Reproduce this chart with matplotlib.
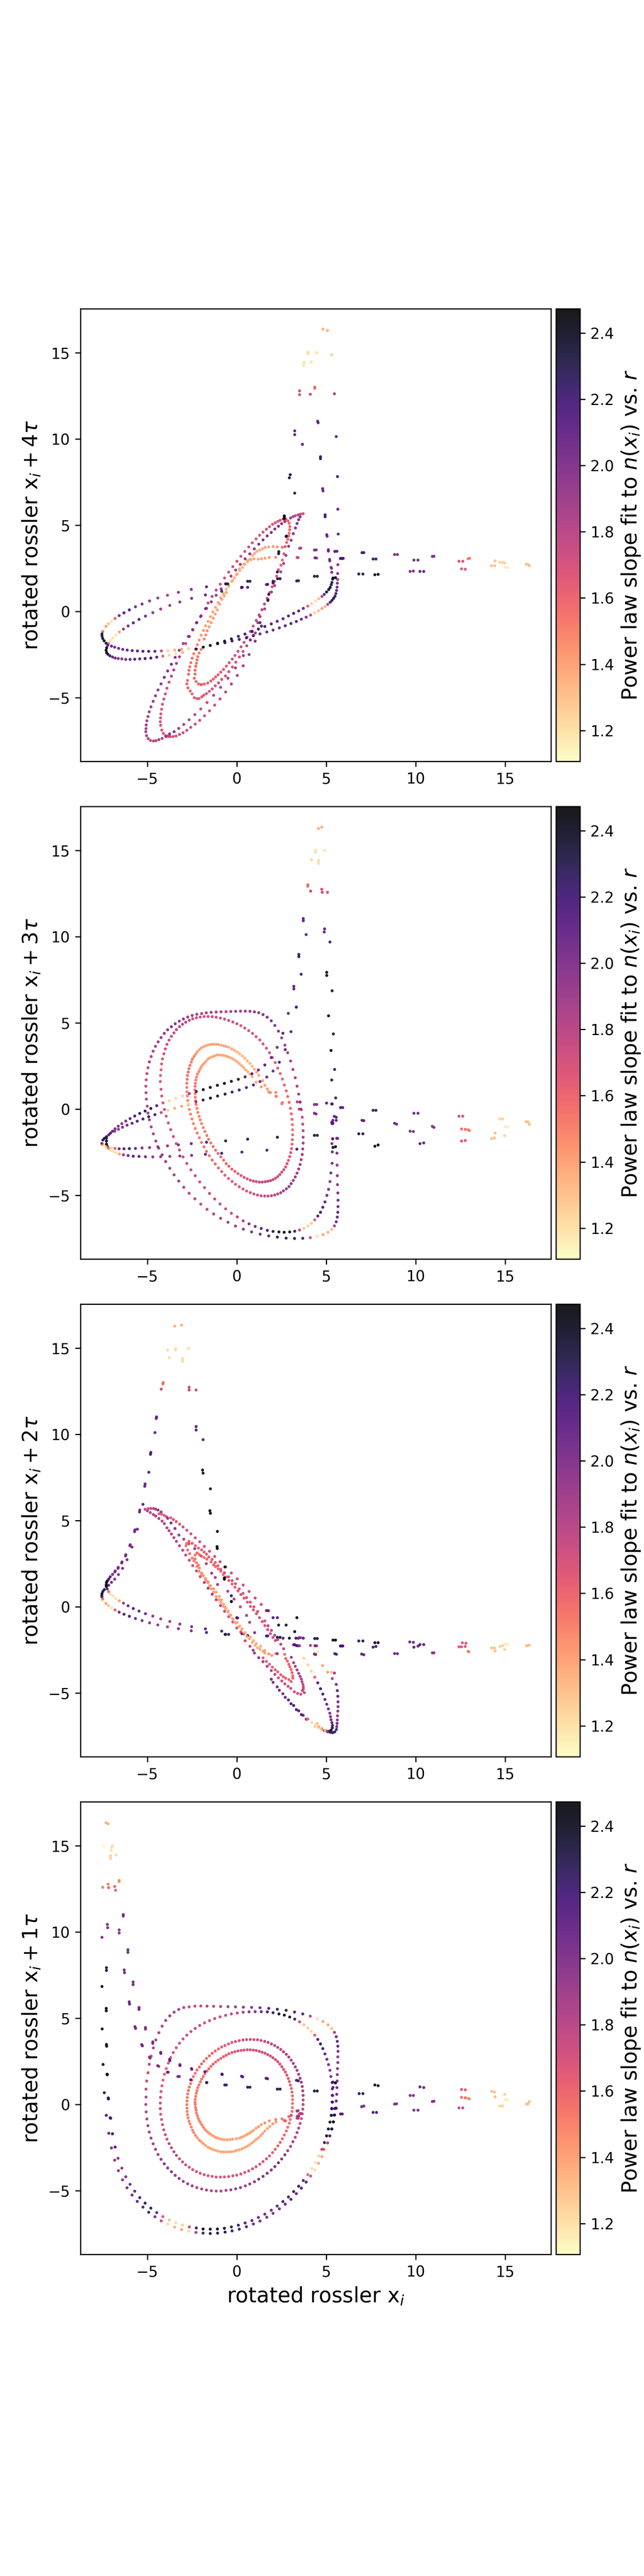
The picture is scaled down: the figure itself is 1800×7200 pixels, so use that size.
import matplotlib
matplotlib.use('Agg')
import matplotlib.pyplot as plt

# points as (x_i, x_i+k*tau, power law slope)

# ---- lag 4 ----
lag4_upper = [(-4.65,-7.51,1.8),(-4.82,-7.48,1.8),(-4.95,-7.37,1.82),(-5.04,-7.2,1.85),(-5.08,-6.97,1.87),(-5.07,-6.79,1.88),(-5.06,-6.58,1.88),(-5.02,-6.34,1.88),(-4.96,-6.09,1.88),(-4.89,-5.82,1.88),(-4.79,-5.53,1.9),(-4.67,-5.21,1.92),(-4.54,-4.89,1.92),(-4.4,-4.55,1.95),(-4.23,-4.2,1.97),(-4.05,-3.82,2.05),(-3.86,-3.45,2.0),(-3.65,-3.06,2.05),(-3.44,-2.66,2.0),(-3.21,-2.25,1.95),(-2.99,-1.86,1.9),(-2.7,-1.45,1.95),(-2.47,-1.05,1.9),(-2.25,-0.66,1.95),(-1.99,-0.25,1.9),(-1.75,0.16,1.85),(-1.6,0.49,1.75),(-1.38,0.87,1.75),(-1.15,1.24,1.75),(-0.92,1.58,1.72),(-0.68,1.94,1.7),(-0.45,2.28,1.7),(-0.22,2.6,1.7),(0.01,2.91,1.7),(0.23,3.2,1.7),(0.45,3.48,1.68),(0.67,3.74,1.68),(0.87,3.98,1.68),(1.08,4.21,1.68),(1.28,4.42,1.68),(1.47,4.6,1.68),(1.66,4.77,1.68),(1.83,4.91,1.68),(2.0,5.05,1.68),(2.15,5.14,1.68),(2.3,5.22,1.68),(2.43,5.29,1.68),(2.6,5.35,1.65),(2.73,5.38,1.62)]
lag4_second = [(-3.83,-7.25,1.7),(-3.97,-7.2,1.7),(-4.1,-7.07,1.7),(-4.19,-6.88,1.7),(-4.25,-6.6,1.68),(-4.27,-6.39,1.68),(-4.26,-6.17,1.68),(-4.24,-5.94,1.68),(-4.2,-5.67,1.68),(-4.15,-5.38,1.7),(-4.07,-5.08,1.72),(-3.99,-4.78,1.72),(-3.9,-4.45,1.72),(-3.78,-4.1,1.75),(-3.65,-3.75,1.78),(-3.52,-3.39,1.85),(-3.37,-3.01,1.85),(-3.2,-2.63,1.85),(-2.85,-1.86,1.75),(-2.65,-1.45,1.9),(-2.45,-1.07,1.9),(-2.23,-0.64,1.95),(-2.02,-0.29,1.95),(-1.69,0.18,2.0),(-1.42,0.56,1.95),(-1.15,0.94,1.9),(-0.87,1.31,1.95),(-0.6,1.6,1.95),(-0.32,2.05,1.9),(-0.06,2.4,1.9),(0.2,2.73,1.9),(0.47,3.05,1.95),(0.73,3.34,1.95),(0.98,3.63,1.95),(1.23,3.9,1.98),(1.47,4.15,2.0),(1.7,4.38,2.02),(1.93,4.58,2.02),(2.13,4.78,2.0),(2.33,4.94,2.0),(2.51,5.09,1.98),(2.69,5.21,1.95)]
lag4_tip = [(3.01,5.42,1.9),(3.15,5.5,1.82),(3.27,5.55,1.8),(3.43,5.6,1.78),(3.56,5.64,1.75),(3.71,5.67,1.72),(3.54,5.48,1.95),(3.46,5.32,1.98),(3.37,5.1,2.0),(3.28,4.84,2.0),(3.16,4.51,1.98),(3.04,4.13,1.95),(2.9,3.78,1.92),(2.75,3.25,1.9),(2.62,2.78,1.85),(2.46,2.3,1.85),(2.12,1.5,1.85),(1.94,1.13,1.9),(1.75,0.7,1.92),(1.56,0.15,1.85),(1.3,-0.3,1.85),(1.18,-0.65,1.9),(1.04,-1.25,1.9)]
lag4_inner_big = [(-2.79,-4.2,1.6),(-2.75,-4.0,1.58),(-2.69,-3.64,1.58),(-2.67,-3.41,1.58),(-2.62,-3.2,1.55),(-2.56,-2.97,1.55),(-2.49,-2.71,1.55),(-2.4,-2.45,1.52),(-2.31,-2.18,1.5),(-2.2,-1.93,1.48),(-2.1,-1.66,1.45),(-1.99,-1.38,1.42),(-1.86,-1.1,1.42),(-1.74,-0.83,1.42),(-1.6,-0.57,1.4),(-1.47,-0.3,1.4),(-1.33,-0.02,1.4),(-1.19,0.24,1.38),(-1.04,0.52,1.38),(-0.9,0.79,1.38),(-0.74,1.03,1.38),(-0.59,1.29,1.36),(-0.44,1.51,1.36),(-0.28,1.74,1.36),(-0.13,1.96,1.36),(0.03,2.18,1.36),(0.17,2.37,1.36),(0.32,2.55,1.36),(0.45,2.73,1.36),(0.6,2.89,1.36),(0.74,3.03,1.36),(0.88,3.25,1.36),(1.0,3.37,1.36),(1.13,3.49,1.36),(1.29,3.56,1.36),(1.44,3.64,1.36),(1.59,3.71,1.38),(1.78,3.74,1.4),(2.03,3.76,1.42),(2.26,3.74,1.42),(2.55,3.72,1.55)]
lag4_inner_small = [(-2.0,-4.24,1.58),(-2.14,-4.2,1.58),(-2.27,-4.06,1.58),(-2.37,-3.87,1.58),(-2.33,-3.63,1.58),(-2.33,-3.41,1.58),(-2.29,-3.18,1.58),(-2.25,-3.0,1.55),(-2.22,-2.81,1.55),(-2.18,-2.62,1.52),(-2.1,-2.41,1.52),(-1.99,-2.2,1.5),(-1.82,-1.6,1.48),(-1.73,-1.36,1.45),(-1.65,-1.12,1.45),(-1.54,-0.89,1.42),(-1.43,-0.65,1.42),(-1.31,-0.39,1.42),(-1.2,-0.15,1.4),(-1.08,0.09,1.4),(-0.95,0.42,1.38),(-0.83,0.7,1.38),(-0.7,0.9,1.38),(-0.58,1.1,1.38),(-0.45,1.45,1.36),(-0.23,1.8,1.36),(-0.02,2.13,1.36),(0.15,2.47,1.36),(0.4,2.75,1.36),(0.62,2.95,1.36),(0.8,3.0,1.36),(0.96,3.05,1.36),(1.2,3.03,1.36),(1.38,3.05,1.38),(1.58,3.09,1.38),(1.82,3.13,1.42),(2.18,3.14,1.45)]
lag4_right = [(-2.73,-4.43,1.6),(-2.6,-4.61,1.6),(-2.5,-4.78,1.6),(-2.37,-5.0,1.62),(-2.22,-5.05,1.62),(-2.1,-5.05,1.62),(-1.95,-4.95,1.65),(-1.84,-4.85,1.65),(-1.69,-4.76,1.65),(-1.53,-4.63,1.68),(-1.37,-4.49,1.68),(-1.2,-4.31,1.68),(-1.02,-4.14,1.7),(-0.84,-3.94,1.7),(-0.63,-3.74,1.7),(-0.44,-3.49,1.7),(-0.24,-3.22,1.68),(-0.05,-2.94,1.68),(0.15,-2.64,1.7),(0.35,-2.32,1.72),(0.56,-1.99,1.78),(0.76,-1.65,1.85)]
lag4_small_right = [(-1.96,-4.24,1.58),(-1.81,-4.21,1.6),(-1.62,-4.15,1.62),(-1.45,-4.03,1.62),(-1.31,-3.92,1.62),(-1.18,-3.79,1.62),(-1.04,-3.67,1.62),(-0.89,-3.52,1.65),(-0.74,-3.36,1.65),(-0.58,-3.17,1.65),(-0.42,-2.97,1.68),(-0.25,-2.76,1.68),(-0.1,-2.55,1.68),(0.07,-2.31,1.7),(0.24,-2.05,1.7),(0.41,-1.79,1.7),(0.58,-1.49,1.72),(0.76,-1.16,1.7),(0.92,-0.85,1.72),(1.09,-0.52,1.75),(1.25,-0.2,1.75),(1.41,0.1,1.8),(1.55,0.43,1.78),(1.7,0.76,1.75),(1.84,1.09,1.72),(1.98,1.43,1.7),(2.11,1.74,1.68),(2.23,2.05,1.65),(2.33,2.42,1.65),(2.47,2.68,1.62),(2.55,2.98,1.6),(2.64,3.34,1.65),(2.71,3.76,1.62),(2.79,4.0,1.6),(2.85,4.19,1.6),(2.9,4.37,1.58),(2.93,4.54,1.58),(2.96,4.74,1.58),(2.97,4.92,1.58),(2.93,5.11,1.58),(2.87,5.25,1.6),(2.75,5.34,1.62)]
lag4_low_a = [(-4.51,-7.49,1.8),(-4.35,-7.43,1.85),(-4.17,-7.36,1.85),(-3.96,-7.25,1.9),(-3.75,-7.1,2.0),(-3.5,-6.97,2.0),(-3.24,-6.78,1.9),(-2.96,-6.55,1.85),(-2.66,-6.28,1.8),(-2.34,-5.98,1.78),(-2.01,-5.65,1.75),(-1.66,-5.28,1.72),(-1.29,-4.86,1.78),(-0.9,-4.4,1.82),(-0.49,-3.87,1.85),(-0.07,-3.27,1.85),(0.37,-2.56,1.9),(0.76,-1.65,1.95)]
lag4_low_b = [(-3.85,-7.22,1.7),(-3.71,-7.26,1.7),(-3.55,-7.25,1.7),(-3.39,-7.22,1.7),(-3.2,-7.13,1.72),(-3.0,-7.03,1.72),(-2.79,-6.89,1.72),(-2.57,-6.72,1.72),(-2.32,-6.53,1.72),(-2.07,-6.31,1.72),(-1.8,-6.05,1.72),(-1.52,-5.76,1.72),(-1.23,-5.43,1.72),(-0.93,-5.07,1.75),(-0.62,-4.67,1.78),(-0.3,-4.21,1.82),(0.03,-3.71,1.85),(0.36,-3.15,1.88),(0.69,-2.5,1.9),(1.03,-1.72,2.0)]
lag4_oval_top = [(-7.49,-1.16,1.55),(-7.42,-1.02,1.12),(-7.31,-0.86,1.4),(-7.17,-0.71,1.3),(-7.0,-0.57,1.2),(-6.8,-0.41,1.6),(-6.57,-0.24,2.05),(-6.3,-0.08,2.2),(-6.0,0.09,2.2),(-5.66,0.27,2.05),(-5.29,0.43,2.0),(-4.87,0.61,1.95),(-4.41,0.78,1.9),(-3.87,0.94,1.85),(-3.26,1.11,1.95),(-2.54,1.28,2.0),(-1.69,1.43,2.15),(-0.62,1.6,2.3),(-0.5,1.6,2.3)]
lag4_oval_mid = [(-7.16,-1.86,1.55),(-7.06,-1.68,1.2),(-6.93,-1.53,1.2),(-6.76,-1.37,1.2),(-6.56,-1.19,1.4),(-6.33,-1.02,1.9),(-6.07,-0.84,2.05),(-5.78,-0.66,2.15),(-5.46,-0.46,2.1),(-5.1,-0.27,2.05),(-4.69,-0.07,1.95),(-4.25,0.14,1.9),(-3.74,0.35,1.9),(-3.18,0.55,1.95),(-2.52,0.76,2.0),(-1.75,0.96,2.1),(-0.84,1.17,2.2),(0.27,1.38,2.15),(0.31,1.4,2.15),(0.61,1.75,2.3),(0.74,1.75,2.3)]
lag4_oval_turn = [(-7.53,-1.3,2.3),(-7.53,-1.42,2.35),(-7.49,-1.56,2.4),(-7.41,-1.7,2.4),(-7.3,-1.84,2.3),(-7.21,-1.96,2.15),(-7.27,-2.11,2.45),(-7.3,-2.25,2.47),(-7.27,-2.39,2.45),(-7.2,-2.48,2.35),(-7.09,-2.57,2.2),(-6.94,-2.64,2.1),(-6.79,-2.7,2.05),(-6.62,-2.73,2.0),(-6.42,-2.75,2.0),(-6.2,-2.78,2.05),(-5.96,-2.78,2.1),(-5.7,-2.77,2.15),(-5.42,-2.75,2.15),(-5.12,-2.73,2.25),(-4.8,-2.7,2.3),(-4.47,-2.65,2.15),(-4.13,-2.59,1.6),(-3.77,-2.54,1.25),(-3.41,-2.45,1.2),(-3.03,-2.38,1.35)]
lag4_oval_low = [(-7.0,-2.01,2.1),(-6.82,-2.07,2.05),(-6.6,-2.14,2.05),(-6.37,-2.2,2.05),(-6.12,-2.24,2.1),(-5.84,-2.27,2.15),(-5.55,-2.29,2.15),(-5.24,-2.31,2.2),(-4.92,-2.31,2.2),(-4.57,-2.31,2.1),(-4.21,-2.29,1.75),(-3.85,-2.27,1.25),(-3.47,-2.24,1.35),(-3.08,-2.19,1.4),(-2.69,-2.16,1.25),(-2.3,-2.18,1.5),(-2.26,-2.18,2.3),(-1.87,-2.07,2.45),(-1.48,-1.97,2.47),(-1.07,-1.87,2.42),(-0.68,-1.72,2.4),(-0.3,-1.59,2.35),(0.09,-1.44,2.25),(0.46,-1.31,2.2),(0.86,-1.17,2.2),(1.21,-1.02,2.25),(1.57,-0.87,2.2),(1.93,-0.72,2.15),(2.26,-0.57,2.15),(2.59,-0.42,2.15),(2.89,-0.26,2.15),(3.18,-0.11,2.2),(3.46,0.03,2.15),(3.72,0.18,2.1),(3.97,0.31,1.6),(4.18,0.46,1.25),(4.39,0.61,1.2),(4.58,0.74,1.3),(4.76,0.87,1.8),(4.89,0.99,2.1),(5.02,1.13,2.4),(5.14,1.27,2.4),(5.22,1.39,2.4),(5.28,1.55,2.3),(5.32,1.68,2.3),(5.36,1.87,2.25)]
lag4_oval_under = [(-1.07,-1.84,2.45),(-0.66,-1.81,2.3),(-0.26,-1.71,2.25),(0.14,-1.62,2.2),(0.54,-1.53,2.2),(0.93,-1.41,2.2),(1.3,-1.3,2.1),(1.68,-1.19,2.05),(2.03,-1.08,2.05),(2.38,-0.95,2.1),(2.71,-0.83,2.15),(3.03,-0.7,2.15),(3.33,-0.58,2.15),(3.61,-0.45,2.1),(3.88,-0.33,2.0),(4.13,-0.21,1.75),(4.36,-0.08,1.25),(4.57,0.04,1.3),(4.76,0.17,1.4),(4.93,0.28,1.35),(5.08,0.41,1.8),(5.22,0.53,2.2),(5.32,0.64,2.3),(5.41,0.76,2.35),(5.49,0.88,2.25),(5.54,1.04,2.15),(5.58,1.22,2.1),(5.61,1.41,2.05),(5.62,1.64,2.0),(5.64,1.85,1.9)]
lag4_top = [(4.82,16.37,1.35),(5.07,16.29,1.35),(4.0,15.03,1.2),(3.97,14.94,1.2),(4.48,15.0,1.2),(5.3,14.88,1.25),(3.77,14.44,1.2),(3.74,14.27,1.2),(4.16,14.46,1.2),(4.36,13.01,1.55),(4.36,12.94,1.55),(3.51,12.79,1.7),(3.51,12.57,1.7),(4.11,12.59,1.75),(5.46,12.62,1.85),(4.52,11.03,2.1),(4.55,10.94,2.1),(3.24,10.47,2.1),(3.24,10.25,2.1),(3.67,9.69,2.15),(5.56,10.14,2.1),(4.68,8.97,2.25),(4.68,8.86,2.25),(2.99,7.93,2.35),(2.94,7.75,2.35),(5.63,7.82,2.2),(3.24,6.86,2.3),(4.8,7.12,2.1),(4.82,6.99,2.1),(5.65,5.93,2.1),(4.94,5.6,2.2),(4.94,5.49,2.2),(2.66,5.54,2.4),(2.64,5.39,2.4),(5.03,4.45,2.05),(5.05,4.36,2.05),(5.67,4.49,2.1),(2.78,4.37,2.35)]
lag4_far = [(5.83,3.08,2.15),(5.95,3.08,2.15),(7.0,3.41,2.2),(7.1,3.41,2.2),(7.62,3.04,2.25),(7.78,3.04,2.25),(8.82,3.3,2.0),(8.98,3.3,2.0),(9.9,2.98,2.05),(10.13,2.98,2.05),(10.93,3.19,1.95),(11.02,3.2,1.95),(12.42,2.91,1.7),(12.63,2.91,1.7),(12.93,3.06,1.5),(13.02,3.08,1.5),(14.44,2.93,1.3),(14.7,2.85,1.25),(14.86,2.85,1.25),(14.97,2.8,1.25),(16.17,2.74,1.3),(16.28,2.72,1.3),(16.35,2.65,1.3),(6.82,2.17,2.3),(7.05,2.17,2.3),(7.72,2.13,2.4),(7.9,2.15,2.4),(9.69,2.32,2.0),(9.87,2.34,2.0),(10.24,2.32,2.1),(10.45,2.32,2.1),(12.56,2.47,1.65),(12.77,2.45,1.65),(14.24,2.65,1.3),(14.42,2.65,1.3),(15.0,2.56,1.15),(15.15,2.54,1.15)]
lag4_scatter = [(2.66,5.53,2.4),(2.66,5.39,2.4),(2.76,4.35,2.35),(2.35,3.47,2.35),(2.34,3.35,2.35),(2.27,2.29,2.35),(2.28,1.9,2.35),(2.42,1.9,2.35),(2.03,1.75,2.25),(2.03,1.65,2.25),(1.66,1.56,2.15),(1.73,1.57,2.15),(3.35,1.77,2.25),(3.45,1.78,2.25),(4.34,2.04,2.35),(4.5,2.04,2.35),(5.38,1.94,2.45),(5.52,1.96,2.45),(5.79,3.07,2.15),(5.9,3.07,2.15),(5.12,3.58,2.05),(5.12,3.5,2.05),(5.48,3.48,2.15),(5.6,3.49,2.15),(4.34,3.56,2.0),(4.44,3.57,2.0),(3.51,3.66,1.8),(3.58,3.68,1.8),(4.37,3.11,2.0),(4.46,3.1,2.0),(3.37,3.13,1.7),(3.43,3.12,1.7),(5.19,3.02,2.0),(5.2,2.93,2.0),(5.65,2.71,1.95),(5.27,2.56,1.95),(5.3,2.5,1.95),(5.31,2.27,2.0),(5.64,2.2,1.95),(0.27,1.4,2.15),(0.61,1.4,2.15),(1.74,0.64,2.3),(1.79,0.99,2.3),(1.3,-0.65,2.1),(1.38,-0.85,2.2),(0.85,-1.15,2.15),(0.93,-1.39,2.05)]

# ---- lag 3 ----
lag3_ring_outer = [(-5.07,0.95,1.78),(-5.08,1.33,1.75),(-5.06,1.7,1.75),(-5.02,2.06,1.75),(-4.96,2.4,1.8),(-4.88,2.74,1.85),(-4.78,3.05,1.85),(-4.67,3.36,1.85),(-4.54,3.64,1.85),(-4.39,3.9,1.88),(-4.23,4.15,1.9),(-4.05,4.39,1.95),(-3.86,4.6,1.95),(-3.65,4.78,1.98),(-3.44,4.95,1.98),(-3.21,5.1,1.95),(-2.98,5.23,1.92),(-2.74,5.34,1.9),(-2.49,5.43,1.9),(-2.23,5.5,1.88),(-1.96,5.54,1.88),(-1.7,5.58,1.88),(-1.43,5.61,1.85),(-1.15,5.63,1.85),(-0.88,5.64,1.85),(-0.6,5.65,1.85),(-0.33,5.66,1.88),(-0.06,5.67,1.9),(0.21,5.68,1.9),(0.48,5.68,1.92),(0.74,5.67,1.92),(0.99,5.64,1.95),(1.23,5.59,1.95),(1.47,5.48,2.0),(1.7,5.33,2.02),(1.93,5.12,2.0),(2.13,4.85,1.98),(2.33,4.52,1.98),(2.51,4.13,1.9),(2.69,3.71,1.88),(2.85,3.27,1.85),(3.01,2.79,1.85),(3.14,2.3,1.85),(3.27,1.82,1.85),(3.37,1.33,1.85),(3.46,0.87,1.85),(3.54,0.4,1.8),(3.61,-0.03,1.75),(3.66,-0.47,1.75),(3.69,-0.87,1.78),(3.71,-1.25,1.82),(3.71,-1.63,1.85),(3.71,-1.97,1.88),(3.69,-2.31,1.9),(3.66,-2.63,1.9),(3.6,-2.93,1.9),(3.54,-3.21,1.9),(3.46,-3.47,1.9),(3.37,-3.71,1.9),(3.27,-3.93,1.92),(3.16,-4.13,1.92),(3.04,-4.32,1.95),(2.92,-4.49,1.92),(2.77,-4.62,1.9),(2.61,-4.74,1.85),(2.46,-4.85,1.82),(2.29,-4.92,1.8),(2.12,-4.98,1.78),(1.94,-5.02,1.78),(1.75,-5.04,1.75),(1.56,-5.04,1.75),(1.36,-5.03,1.72),(1.16,-4.98,1.72),(0.96,-4.92,1.7),(0.76,-4.84,1.7),(0.55,-4.75,1.68),(0.35,-4.63,1.68),(0.14,-4.5,1.68),(-0.07,-4.36,1.65),(-0.26,-4.19,1.65),(-0.46,-4.02,1.62),(-0.66,-3.83,1.62),(-0.84,-3.62,1.62),(-1.02,-3.41,1.6),(-1.2,-3.18,1.58),(-1.37,-2.95,1.58),(-1.53,-2.7,1.55),(-1.69,-2.45,1.55),(-1.83,-2.19,1.55),(-1.97,-1.93,1.52),(-2.09,-1.66,1.52),(-2.21,-1.39,1.52),(-2.32,-1.12,1.5),(-2.42,-0.84,1.5),(-2.5,-0.57,1.5),(-2.58,-0.29,1.5),(-2.65,-0.02,1.48),(-2.7,0.25,1.48),(-2.74,0.5,1.48),(-2.76,0.77,1.5),(-2.78,1.01,1.5),(-2.79,1.26,1.5),(-2.79,1.5,1.52),(-2.77,1.73,1.55),(-2.75,1.95,1.55),(-2.71,2.15,1.55),(-2.67,2.35,1.55),(-2.61,2.54,1.55),(-2.54,2.73,1.52),(-2.48,2.9,1.52),(-2.39,3.05,1.48),(-2.3,3.18,1.45),(-2.21,3.32,1.42),(-2.09,3.44,1.4),(-1.98,3.55,1.38),(-1.87,3.61,1.38),(-1.74,3.67,1.38),(-1.6,3.72,1.38),(-1.47,3.75,1.38),(-1.33,3.76,1.38),(-1.17,3.76,1.38),(-1.04,3.75,1.38),(-0.89,3.71,1.38),(-0.73,3.67,1.38),(-0.59,3.63,1.38),(-0.44,3.58,1.36),(-0.28,3.5,1.36),(-0.13,3.41,1.36),(0.02,3.31,1.34),(0.16,3.2,1.34),(0.31,3.08,1.34),(0.45,2.95,1.34),(0.59,2.8,1.34),(0.74,2.65,1.34),(0.86,2.48,1.34),(0.98,2.32,1.34),(1.11,2.14,1.36),(1.23,1.96,1.36),(1.45,1.65,1.38),(1.57,1.38,1.4),(1.71,1.17,1.42),(1.88,0.96,1.45),(2.19,0.75,1.5),(2.55,0.38,1.5)]
lag3_ring_inner = [(-4.27,1.6,1.65),(-4.26,1.95,1.62),(-4.23,2.28,1.62),(-4.2,2.62,1.65),(-4.15,2.91,1.68),(-4.07,3.21,1.7),(-3.99,3.49,1.72),(-3.9,3.76,1.72),(-3.78,4.0,1.72),(-3.65,4.22,1.75),(-3.51,4.42,1.75),(-3.37,4.61,1.78),(-3.2,4.78,1.78),(-3.03,4.92,1.78),(-2.85,5.04,1.78),(-2.65,5.15,1.75),(-2.46,5.24,1.72),(-2.25,5.3,1.72),(-2.04,5.34,1.72),(-1.82,5.37,1.72),(-1.6,5.37,1.72),(-1.37,5.36,1.72),(-1.15,5.33,1.72),(-0.91,5.28,1.72),(-0.68,5.22,1.7),(-0.45,5.14,1.7),(-0.22,5.05,1.7),(0.01,4.95,1.7),(0.23,4.84,1.68),(0.45,4.7,1.68),(0.67,4.55,1.68),(0.88,4.39,1.68),(1.08,4.2,1.68),(1.29,4.01,1.68),(1.47,3.78,1.68),(1.66,3.53,1.68),(1.83,3.27,1.68),(1.99,2.99,1.65),(2.15,2.7,1.65),(2.29,2.38,1.62),(2.43,2.06,1.6),(2.55,1.74,1.6),(2.66,1.4,1.6),(2.77,1.06,1.6),(2.85,0.73,1.58),(2.93,0.39,1.58),(3.0,0.05,1.58),(3.05,-0.27,1.58),(3.09,-0.59,1.58),(3.11,-0.9,1.55),(3.12,-1.2,1.55),(3.12,-1.49,1.58),(3.11,-1.77,1.6),(3.09,-2.03,1.6),(3.06,-2.29,1.62),(3.02,-2.52,1.65),(2.96,-2.75,1.65),(2.89,-2.97,1.65),(2.81,-3.16,1.68),(2.73,-3.35,1.68),(2.63,-3.51,1.68),(2.52,-3.65,1.7),(2.41,-3.79,1.7),(2.29,-3.91,1.72),(2.16,-4.01,1.72),(2.02,-4.09,1.72),(1.88,-4.15,1.75),(1.73,-4.18,1.75),(1.58,-4.21,1.75),(1.42,-4.23,1.75),(1.26,-4.23,1.75),(1.09,-4.2,1.72),(0.93,-4.17,1.72),(0.76,-4.12,1.7),(0.59,-4.04,1.68),(0.41,-3.96,1.68),(0.24,-3.85,1.65),(0.07,-3.74,1.62),(-0.1,-3.61,1.62),(-0.27,-3.48,1.62),(-0.44,-3.31,1.62),(-0.59,-3.16,1.6),(-0.73,-2.96,1.58),(-0.89,-2.77,1.58),(-1.04,-2.57,1.58),(-1.18,-2.38,1.55),(-1.32,-2.17,1.55),(-1.45,-1.96,1.52),(-1.57,-1.75,1.52),(-1.67,-1.53,1.52),(-1.78,-1.3,1.5),(-1.87,-1.07,1.5),(-1.97,-0.84,1.5),(-2.04,-0.62,1.5),(-2.1,-0.42,1.5),(-2.17,-0.19,1.5),(-2.22,0.04,1.5),(-2.27,0.27,1.5),(-2.3,0.49,1.5),(-2.32,0.69,1.5),(-2.33,0.9,1.5),(-2.34,1.12,1.52),(-2.33,1.32,1.52),(-2.31,1.5,1.52),(-2.28,1.69,1.5),(-2.25,1.86,1.48),(-2.2,2.03,1.48),(-2.12,2.17,1.46),(-2.06,2.31,1.42),(-1.99,2.44,1.42),(-1.91,2.56,1.4),(-1.82,2.66,1.4),(-1.72,2.77,1.38),(-1.62,2.89,1.38),(-1.51,2.97,1.38),(-1.38,3.03,1.38),(-1.25,3.08,1.38),(-1.11,3.14,1.38),(-0.98,3.14,1.38),(-0.84,3.13,1.38),(-0.73,3.11,1.38),(-0.6,3.08,1.38),(-0.48,3.03,1.38),(-0.35,2.98,1.36),(-0.22,2.91,1.36),(-0.1,2.83,1.36),(0.03,2.74,1.36),(0.15,2.63,1.36),(0.27,2.52,1.36),(0.39,2.4,1.36),(0.5,2.27,1.36),(0.62,2.17,1.34),(0.73,2.03,1.34),(0.86,1.88,1.34),(1.08,1.56,1.38),(1.37,1.29,1.42),(1.79,1.0,1.45),(2.18,0.97,1.48),(2.22,0.74,1.48),(2.52,0.31,1.5)]
lag3_lower_a = [(-5.05,0.58,1.8),(-5.0,0.17,1.82),(-4.96,-0.23,1.85),(-4.88,-0.62,1.85),(-4.78,-1.03,1.85),(-4.66,-1.43,1.85),(-4.52,-1.85,1.88),(-4.36,-2.26,1.9),(-4.17,-2.65,1.92),(-3.97,-3.04,1.9),(-3.74,-3.43,1.88),(-3.5,-3.81,1.88),(-3.24,-4.17,1.88),(-2.96,-4.53,1.82),(-2.66,-4.88,1.78),(-2.34,-5.2,1.78),(-2.01,-5.51,1.78),(-1.66,-5.81,1.8),(-1.29,-6.08,1.82),(-0.9,-6.33,1.85),(-0.49,-6.56,1.88),(-0.07,-6.78,1.9),(0.37,-6.96,1.95),(0.83,-7.12,2.0),(1.31,-7.25,2.05),(1.79,-7.35,2.1),(2.27,-7.42,2.3),(2.76,-7.48,2.25),(3.23,-7.5,2.3),(3.69,-7.49,2.2),(4.11,-7.45,1.75),(4.5,-7.37,1.2),(4.82,-7.28,1.38),(5.1,-7.14,1.35),(5.31,-6.97,1.3),(5.46,-6.77,1.85),(5.56,-6.53,2.05),(5.62,-6.26,2.1),(5.65,-5.98,2.1),(5.66,-5.65,2.05),(5.66,-5.28,2.05),(5.65,-4.86,2.0),(5.63,-4.38,1.95),(5.62,-3.86,1.95),(5.61,-3.25,1.95),(5.6,-2.55,2.0),(5.59,-1.69,2.05),(5.56,-0.65,2.1),(5.53,0.65,2.2),(5.47,2.3,2.25),(5.4,4.36,2.35)]
lag3_lower_b = [(-4.23,1.15,1.68),(-4.19,0.76,1.68),(-4.12,0.36,1.68),(-4.04,-0.02,1.7),(-3.94,-0.41,1.68),(-3.82,-0.8,1.7),(-3.69,-1.19,1.7),(-3.54,-1.59,1.72),(-3.38,-2.0,1.72),(-3.2,-2.37,1.72),(-3.0,-2.77,1.72),(-2.79,-3.15,1.72),(-2.56,-3.52,1.75),(-2.32,-3.86,1.75),(-2.07,-4.22,1.72),(-1.8,-4.55,1.72),(-1.52,-4.89,1.75),(-1.23,-5.21,1.75),(-0.93,-5.5,1.75),(-0.62,-5.78,1.75),(-0.3,-6.04,1.75),(0.03,-6.25,1.8),(0.36,-6.48,1.85),(0.69,-6.65,2.0),(1.03,-6.8,2.05),(1.37,-6.92,2.15),(1.71,-7.03,2.2),(2.03,-7.09,2.3),(2.36,-7.12,2.4),(2.65,-7.14,2.45),(2.96,-7.12,2.4),(3.24,-7.08,2.25),(3.51,-7.01,1.75),(3.75,-6.91,1.28),(3.98,-6.77,1.25),(4.17,-6.62,1.25),(4.36,-6.42,1.62),(4.53,-6.2,2.15),(4.68,-5.98,2.3),(4.81,-5.69,2.2),(4.93,-5.38,2.1),(5.04,-5.0,2.05),(5.13,-4.65,2.0),(5.21,-4.2,1.95),(5.26,-3.7,2.0),(5.33,-3.14,2.0),(5.34,-2.48,2.05),(5.36,-1.72,2.1),(5.37,-0.81,2.15),(5.31,0.3,2.15),(5.31,1.69,2.3),(5.27,3.4,2.45),(5.13,5.41,2.45)]
lag3_cusp = [(-7.53,-2.0,2.3),(-7.48,-1.79,2.3),(-7.39,-1.69,2.35),(-7.28,-1.6,2.3),(-7.15,-1.49,2.15),(-7.05,-1.39,2.15),(-6.94,-1.28,2.1),(-6.8,-1.14,2.05),(-6.62,-0.99,2.0),(-6.42,-0.84,1.95),(-6.2,-0.69,2.0),(-5.96,-0.55,2.1),(-5.7,-0.4,2.2),(-5.42,-0.25,2.25),(-5.12,-0.11,2.3),(-4.8,0.04,2.35),(-4.47,0.2,2.15),(-3.77,0.48,1.25),(-3.41,0.63,1.2),(-3.03,0.76,1.25),(-2.65,0.9,1.85),(-2.26,1.02,2.25),(-1.87,1.13,2.45),(-1.48,1.26,2.47),(-1.08,1.38,2.45),(-0.69,1.49,2.45),(-0.3,1.61,2.4),(0.09,1.73,2.35),(0.47,1.87,2.2),(0.85,2.05,2.15),(1.21,2.27,2.05),(1.57,2.56,2.15),(1.93,2.99,2.05),(2.26,3.58,2.05),(2.58,4.4,2.15),(2.88,5.55,2.1)]
lag3_cusp_two = [(-7.28,-1.68,2.3),(-7.28,-1.85,2.47),(-7.28,-2.03,2.47),(-7.23,-2.17,2.35),(-6.82,-1.28,1.95),(-6.61,-1.17,1.95),(-6.38,-1.05,2.0),(-6.13,-0.93,2.05),(-5.85,-0.82,2.1),(-5.56,-0.7,2.15),(-5.24,-0.57,2.2),(-4.92,-0.44,2.3),(-4.57,-0.32,2.2),(-4.22,-0.2,1.75),(-3.85,-0.07,1.25),(-3.47,0.05,1.35),(-3.08,0.17,1.4),(-2.69,0.29,1.22),(-2.28,0.42,1.9),(-1.88,0.53,2.3),(-1.47,0.64,2.45),(-1.07,0.76,2.35),(-0.65,0.87,2.35),(-0.26,0.99,2.25),(0.14,1.11,2.2),(0.54,1.25,2.15),(0.93,1.4,2.15),(1.3,1.6,2.05),(1.68,1.86,2.05),(2.03,2.21,2.05),(2.38,2.72,2.15),(2.71,3.45,2.1),(3.03,4.49,2.1),(3.33,5.92,2.1)]
lag3_bottom_a = [(-7.49,-2.07,1.55),(-7.43,-2.14,1.12),(-7.31,-2.19,1.25),(-7.17,-2.27,1.55),(-7.0,-2.25,1.25),(-6.8,-2.28,1.6),(-6.57,-2.3,2.05),(-6.3,-2.3,2.15),(-6.0,-2.29,2.2),(-5.66,-2.28,2.1),(-5.29,-2.25,2.0),(-4.87,-2.23,1.95),(-4.41,-2.18,1.9),(-3.87,-2.13,1.95),(-3.26,-2.07,2.0),(-2.54,-2.0,2.05),(-1.69,-1.92,2.15),(-0.62,-1.84,2.3),(0.61,-1.74,2.3),(2.27,-1.63,2.35),(4.34,-1.52,2.35),(4.5,-1.52,2.35)]
lag3_bottom_b = [(-7.16,-2.27,1.5),(-7.06,-2.36,1.2),(-6.93,-2.44,1.2),(-6.76,-2.52,1.2),(-6.56,-2.6,1.4),(-6.33,-2.65,1.9),(-6.07,-2.69,2.05),(-5.78,-2.73,2.15),(-5.46,-2.74,2.1),(-5.1,-2.76,2.05),(-4.69,-2.77,1.95),(-4.25,-2.76,1.9),(-3.74,-2.74,1.9),(-3.18,-2.72,1.95),(-2.52,-2.68,2.0),(-1.75,-2.62,2.1),(-0.84,-2.56,2.2),(0.29,-2.49,2.15),(1.69,-2.38,2.15),(3.36,-2.32,2.2),(5.38,-2.22,2.45),(5.52,-2.18,2.45)]
lag3_scatter = [(3.49,0.0,1.8),(3.58,0.0,1.8),(3.38,0.42,1.85),(3.54,0.42,1.85),(4.34,0.27,2.0),(4.47,0.27,2.0),(4.34,-0.24,2.0),(4.43,-0.28,2.0),(5.45,-0.42,2.1),(5.56,-0.47,2.1),(5.37,-0.65,2.1),(5.35,-0.84,2.15),(5.33,-0.83,2.15),(5.02,0.35,2.15),(5.32,-2.0,2.0),(5.64,-1.7,2.0),(5.31,-0.77,2.1),(5.33,0.3,2.2),(5.92,0.09,2.15),(5.8,0.09,2.15),(5.36,-1.72,2.1)]
lag3_top = [(4.57,16.27,1.35),(4.75,16.35,1.35),(4.41,15.01,1.2),(4.39,14.9,1.2),(4.91,14.99,1.2),(4.18,14.46,1.22),(4.57,14.42,1.22),(4.57,14.25,1.22),(3.97,13.01,1.55),(3.97,12.92,1.55),(4.13,12.64,1.75),(4.75,12.75,1.7),(4.78,12.57,1.75),(5.07,12.57,1.7),(3.72,11.05,2.1),(3.72,10.92,2.1),(4.91,10.45,2.1),(4.89,10.27,2.1),(3.88,10.12,2.1),(5.21,9.69,2.15),(3.47,8.97,2.25),(3.47,8.84,2.25),(5.03,7.93,2.4),(5.03,7.75,2.4),(3.19,7.12,2.1),(3.19,6.97,2.1),(3.6,7.82,2.2),(5.33,6.86,2.35),(3.33,5.91,2.1)]
lag3_far = [(7.0,-0.65,2.1),(7.1,-0.67,2.1),(6.82,-1.43,2.3),(7.05,-1.43,2.3),(7.62,-0.07,2.25),(7.78,-0.07,2.25),(7.72,-2.15,2.45),(7.9,-2.08,2.45),(8.82,-0.82,2.05),(8.93,-0.87,2.05),(9.69,-1.28,2.0),(9.87,-1.3,2.0),(9.9,-0.24,2.05),(10.13,-0.24,2.05),(10.24,-2.0,2.1),(10.45,-1.96,2.1),(10.93,-1.0,1.95),(11.02,-1.06,1.95),(12.42,-0.41,1.7),(12.63,-0.41,1.7),(12.56,-1.15,1.55),(12.77,-1.17,1.55),(12.93,-1.19,1.5),(13.0,-1.24,1.5),(12.56,-1.85,1.65),(12.77,-1.82,1.65),(14.24,-1.71,1.3),(14.4,-1.67,1.3),(14.44,-1.39,1.3),(14.7,-0.57,1.25),(14.86,-0.57,1.25),(14.97,-1.54,1.25),(15.0,-1.02,1.15),(15.13,-1.02,1.15),(16.17,-0.72,1.3),(16.28,-0.74,1.3),(16.35,-0.89,1.3)]

# ---- lag 2 ----
lag2_left = [(-5.24,5.94,2.15),(-5.42,5.61,2.05),(-5.43,5.5,2.05),(-5.55,4.5,2.05),(-5.69,4.46,2.05),(-5.71,4.36,2.05),(-5.95,3.6,2.0),(-5.97,3.54,2.0),(-5.85,3.46,2.0),(-6.2,3.02,2.0),(-6.21,2.95,2.0),(-6.13,2.73,2.0),(-6.41,2.6,2.0),(-6.43,2.54,2.0),(-6.38,2.23,2.0),(-6.62,2.29,2.0),(-6.63,2.23,2.0),(-6.61,1.87,1.95),(-6.79,2.08,1.98),(-6.81,2.02,1.98),(-6.82,1.6,2.0),(-6.94,1.88,2.05),(-7.0,1.42,2.05),(-7.07,1.74,2.15),(-7.15,1.61,2.2),(-7.16,1.25,2.1),(-7.23,1.5,2.4),(-7.28,1.41,2.45),(-7.29,1.28,2.47),(-7.29,1.18,2.47),(-7.24,1.04,2.1),(-7.4,1.0,2.3),(-7.48,0.89,2.35),(-7.53,0.76,2.4),(-7.54,0.65,2.35),(-7.53,0.56,2.1),(-7.49,0.43,1.55),(-7.43,0.31,1.12),(-7.31,0.19,1.4),(-7.17,0.07,1.3),(-7.0,-0.06,1.2),(-6.8,-0.18,1.6),(-6.57,-0.31,2.05),(-6.3,-0.43,2.2),(-6.0,-0.55,2.2),(-5.66,-0.68,2.05),(-5.29,-0.8,2.0),(-4.87,-0.93,1.95),(-4.41,-1.05,1.9),(-3.87,-1.16,1.85),(-3.26,-1.27,1.95),(-2.54,-1.39,2.0),(-1.69,-1.49,2.15),(-0.65,-1.6,2.3)]
lag2_left_two = [(-7.16,0.88,1.55),(-7.06,0.74,1.2),(-6.93,0.63,1.2),(-6.76,0.48,1.2),(-6.56,0.35,1.4),(-6.33,0.21,1.9),(-6.07,0.06,2.05),(-5.78,-0.1,2.15),(-5.46,-0.25,2.1),(-5.1,-0.4,2.05),(-4.69,-0.54,1.95),(-4.25,-0.7,1.9),(-3.74,-0.85,1.9),(-3.18,-1.0,1.95),(-2.52,-1.15,2.0),(-1.75,-1.28,2.1),(-0.84,-1.41,2.2),(0.29,-1.56,2.15),(0.4,-1.56,2.15),(0.61,-1.67,2.35),(1.66,-1.69,2.15),(1.73,-1.69,2.15),(2.27,-1.77,2.35),(2.42,-1.77,2.35),(2.94,-1.82,2.4),(3.31,-1.82,2.25),(3.45,-1.82,2.25),(3.72,-1.82,2.15),(3.24,-2.2,2.2),(3.4,-2.25,2.2),(4.36,-1.84,2.35),(4.5,-1.84,2.35),(5.38,-1.93,2.45),(5.52,-1.93,2.45),(5.79,-2.27,2.15),(5.9,-2.27,2.15)]
lag2_top_loop = [(-5.12,5.65,1.75),(-4.95,5.69,1.75),(-4.8,5.7,1.75),(-4.65,5.7,1.78),(-4.53,5.66,1.85),(-4.4,5.61,1.95),(-4.23,5.5,1.92),(-4.99,5.56,1.78),(-4.83,5.46,1.78),(-4.66,5.35,1.8),(-4.53,5.26,1.85),(-4.35,5.12,1.85),(-4.17,4.97,1.82),(-4.04,4.82,1.82),(-3.9,4.58,1.82),(-3.78,4.41,1.82),(-3.65,4.22,1.82),(-3.51,4.01,1.82),(-3.37,3.79,1.82),(-3.2,3.54,1.8),(-3.02,3.28,1.78),(-2.85,3.0,1.75),(-2.65,2.7,1.75),(-2.46,2.39,1.72),(-2.25,2.08,1.72),(-2.04,1.75,1.72),(-1.81,1.41,1.85),(-1.6,1.08,1.9),(-1.37,0.73,1.9),(-1.15,0.41,1.78),(-0.91,0.07,1.78),(-0.68,-0.26,1.75),(-0.45,-0.57,1.72),(-0.22,-0.88,1.7),(0.0,-1.23,1.7),(0.23,-1.47,1.75),(0.47,-1.97,1.75),(0.74,-2.29,1.78),(0.92,-2.52,1.9)]
lag2_top_second = [(-4.34,5.39,1.62),(-4.2,5.37,1.62),(-4.05,5.3,1.65),(-3.93,5.23,1.65),(-3.69,5.16,1.65),(-3.54,5.06,1.68),(-3.38,4.94,1.68),(-3.19,4.79,1.68),(-3.0,4.63,1.7),(-2.79,4.44,1.7),(-2.56,4.23,1.7),(-2.32,4.0,1.7),(-2.07,3.77,1.7),(-1.81,3.5,1.7),(-1.52,3.22,1.72),(-1.23,2.92,1.72),(-0.93,2.61,1.72),(-0.62,2.31,1.75),(-0.3,1.96,1.72),(0.03,1.62,1.72),(0.36,1.26,1.72),(0.69,0.89,1.72),(1.03,0.51,1.75),(1.37,0.14,1.72),(1.79,-0.23,1.75)]
lag2_purple = [(-3.86,5.13,1.98),(-3.67,4.86,2.0),(-3.45,4.54,2.0),(-3.23,4.16,1.9),(-2.96,3.92,1.85),(-2.67,3.65,1.75),(-2.35,3.37,1.9),(-2.0,2.95,1.95),(-1.7,2.5,1.85),(-1.4,1.95,1.9),(-1.2,1.7,1.85),(-1.07,1.29,1.9),(-0.5,0.9,1.85),(-0.15,0.45,1.85),(0.2,0.0,1.8),(0.55,-0.5,1.85),(0.72,-0.9,1.85),(1.0,-1.5,2.0)]
lag2_mid_a = [(-2.67,3.79,1.62),(-2.49,3.68,1.62),(-2.31,3.54,1.62),(-2.14,3.4,1.62),(-1.96,3.3,1.62),(-1.82,3.17,1.62),(-1.69,3.05,1.62),(-1.56,2.89,1.62),(-1.38,2.75,1.62),(-1.2,2.57,1.62),(-1.05,2.38,1.62),(-0.89,2.17,1.65),(-0.69,1.97,1.7),(-0.46,1.74,1.7),(-0.26,1.52,1.68),(-0.07,1.34,1.7),(0.14,1.04,1.68),(0.35,0.78,1.68),(0.55,0.53,1.68),(0.76,0.27,1.68),(0.96,0.0,1.68),(1.17,-0.27,1.68),(1.57,-0.82,1.72),(1.75,-1.1,1.78),(1.94,-1.37,1.78),(2.12,-1.65,1.8),(2.29,-1.9,1.78),(2.46,-2.17,1.8),(2.62,-2.43,1.8)]
lag2_mid_b = [(-2.22,3.12,1.55),(-2.09,3.03,1.55),(-1.96,2.94,1.55),(-1.82,2.85,1.55),(-1.67,2.76,1.58),(-1.44,2.6,1.6),(-1.29,2.43,1.6),(-1.18,2.33,1.6),(-1.03,2.2,1.6),(-0.89,2.06,1.6),(-0.75,1.87,1.6),(-0.59,1.73,1.6),(-0.44,1.52,1.62),(-0.26,1.32,1.62),(-0.1,1.13,1.62),(0.07,0.92,1.65),(0.23,0.71,1.65),(0.41,0.5,1.65),(0.59,0.27,1.65),(0.77,0.02,1.65),(0.93,-0.18,1.68),(1.1,-0.4,1.68),(1.27,-0.63,1.68),(1.42,-0.86,1.68),(1.57,-1.09,1.68),(1.73,-1.32,1.7),(1.88,-1.56,1.72),(2.02,-1.78,1.72),(2.16,-1.95,1.75)]
lag2_orange_a = [(-2.67,3.79,1.55),(-2.8,3.67,1.55),(-2.83,3.54,1.55),(-2.74,3.29,1.55),(-2.63,3.08,1.55),(-2.49,2.82,1.52),(-2.39,2.66,1.5),(-2.23,2.34,1.48),(-2.1,2.06,1.45),(-1.96,1.88,1.42),(-1.74,1.53,1.42),(-1.6,1.41,1.42),(-1.47,1.22,1.42),(-1.29,1.04,1.42),(-1.15,0.85,1.4),(-0.97,0.6,1.4),(-0.86,0.4,1.4),(-0.74,0.15,1.38),(-0.63,-0.03,1.38),(-0.48,-0.24,1.38),(-0.33,-0.49,1.38),(-0.2,-0.71,1.38),(-0.03,-0.95,1.38),(0.12,-1.15,1.38),(0.27,-1.32,1.38),(0.41,-1.52,1.38),(0.57,-1.72,1.38),(0.71,-1.85,1.38),(0.87,-2.07,1.36),(1.02,-2.24,1.36),(1.16,-2.37,1.36),(1.3,-2.46,1.36),(1.47,-2.58,1.38),(1.57,-2.68,1.4),(1.79,-2.73,1.45),(2.18,-2.71,1.5),(2.68,-2.76,1.55)]
lag2_orange_b = [(-2.22,3.12,1.52),(-2.33,3.0,1.52),(-2.33,2.78,1.52),(-2.25,2.56,1.52),(-2.14,2.42,1.5),(-2.09,2.25,1.48),(-1.96,1.95,1.46),(-1.87,1.8,1.45),(-1.74,1.64,1.45),(-1.62,1.45,1.45),(-1.51,1.23,1.42),(-1.42,1.04,1.42),(-1.29,0.85,1.42),(-1.15,0.6,1.42),(-1.0,0.41,1.42),(-0.89,0.25,1.4),(-0.75,0.03,1.4),(-0.62,-0.1,1.38),(-0.49,-0.3,1.38),(-0.37,-0.47,1.38),(-0.24,-0.68,1.38),(-0.1,-0.9,1.36),(0.03,-0.9,1.36),(0.17,-1.11,1.36),(0.3,-1.27,1.36),(0.47,-1.5,1.36),(0.76,-1.75,1.36),(0.93,-1.96,1.36),(1.1,-2.13,1.36),(1.33,-2.29,1.36),(1.57,-2.53,1.38),(1.96,-2.82,1.42)]
lag2_loop_tip = [(2.74,-3.0,1.6),(2.83,-3.15,1.6),(2.91,-3.33,1.6),(2.97,-3.48,1.6),(3.04,-3.64,1.6),(3.09,-3.82,1.6),(3.13,-4.0,1.6),(3.13,-4.14,1.6),(3.04,-4.33,1.62),(2.91,-4.22,1.62),(2.73,-4.14,1.62),(2.6,-4.05,1.62),(2.46,-3.94,1.62),(2.29,-3.77,1.62),(2.15,-3.65,1.62),(1.99,-3.5,1.62),(1.83,-3.33,1.62),(1.66,-3.17,1.62),(1.47,-2.96,1.62)]
lag2_loop_low = [(3.78,-4.98,1.72),(3.58,-5.07,1.72),(3.4,-5.02,1.72),(3.22,-4.93,1.72),(3.02,-4.73,1.72),(2.87,-4.61,1.72),(2.69,-4.47,1.72),(2.52,-4.3,1.72),(2.33,-4.12,1.72),(2.13,-3.92,1.75),(1.93,-3.7,1.8),(1.7,-3.45,1.85),(1.47,-3.18,1.9),(1.23,-2.95,1.95),(0.99,-2.68,1.9)]
lag2_loop_right = [(3.05,-2.93,1.9),(3.18,-3.24,1.88),(3.27,-3.45,1.85),(3.37,-3.66,1.85),(3.46,-3.86,1.85),(3.54,-4.03,1.85),(3.61,-4.19,1.85),(3.65,-4.35,1.78),(3.7,-4.5,1.75),(3.72,-4.64,1.75),(3.72,-4.77,1.75),(3.67,-4.86,1.75)]
lag2_outer_left = [(1.93,-4.2,2.05),(2.03,-4.38,2.0),(2.26,-4.64,2.05),(2.38,-4.84,2.05),(2.58,-5.04,2.05),(2.71,-5.25,2.1),(2.89,-5.4,2.15),(3.03,-5.62,2.2),(3.18,-5.72,2.25),(3.33,-5.96,2.2),(3.46,-6.03,2.2),(3.61,-6.25,2.15),(3.71,-6.29,2.1),(3.88,-6.52,1.95),(3.97,-6.51,1.6),(4.2,-6.71,1.22),(4.39,-6.86,1.2),(4.36,-6.94,1.25),(4.58,-7.0,1.3),(4.76,-7.11,1.4),(4.89,-7.18,1.85),(5.01,-7.2,2.3),(5.14,-7.22,2.47),(5.27,-7.16,2.47),(5.34,-7.02,2.35),(5.35,-6.88,2.25),(5.32,-6.72,2.1),(5.27,-6.55,2.05),(5.24,-6.37,2.0),(5.2,-6.17,2.0),(5.12,-5.92,2.05),(5.03,-5.65,2.05),(4.93,-5.37,2.1),(4.81,-5.06,2.2),(4.68,-4.75,2.3),(4.53,-4.41,2.15),(4.36,-4.08,1.62),(4.17,-3.73,1.25),(3.98,-3.36,1.25),(3.75,-2.99,1.25)]
lag2_outer_right = [(5.56,-4.5,2.0),(5.62,-4.86,2.1),(5.65,-5.19,2.1),(5.66,-5.51,2.05),(5.66,-5.79,2.0),(5.65,-6.05,1.95),(5.63,-6.32,1.95),(5.62,-6.56,1.95),(5.61,-6.76,2.05),(5.59,-6.94,2.05),(5.57,-7.11,2.15),(5.48,-7.25,2.25),(5.36,-7.3,2.3),(5.22,-7.28,2.2),(5.08,-7.25,1.85),(4.94,-7.18,1.3),(4.76,-7.05,1.38),(4.57,-6.93,1.35),(4.49,-6.76,1.3),(5.34,-4.16,1.8),(5.46,-3.84,1.85),(5.08,-3.79,1.38),(4.8,-3.41,1.4),(4.5,-2.63,1.2),(5.3,-3.79,1.3)]
lag2_top = [(-3.47,16.27,1.35),(-3.08,16.33,1.35),(-3.86,14.88,1.22),(-3.42,14.98,1.2),(-3.42,14.9,1.2),(-2.69,14.98,1.2),(-3.77,14.44,1.22),(-3.03,14.38,1.22),(-3.03,14.24,1.22),(-4.11,13.0,1.55),(-4.13,12.92,1.55),(-4.22,12.62,1.75),(-2.66,12.73,1.75),(-2.66,12.57,1.75),(-2.27,12.57,1.7),(-4.48,11.01,2.1),(-4.5,10.92,2.1),(-2.27,10.45,2.15),(-2.27,10.25,2.15),(-4.57,10.1,2.1),(-1.88,9.69,2.15),(-4.8,8.95,2.2),(-4.82,8.84,2.2),(-1.91,7.93,2.4),(-1.88,7.75,2.4),(-4.91,7.8,2.15),(-5.12,7.12,2.1),(-5.14,6.99,2.1),(-1.47,6.84,2.35),(-1.5,5.57,2.45),(-1.47,5.42,2.45),(-1.08,4.37,2.45),(-1.1,3.49,2.45),(-1.09,3.38,2.45),(-0.66,2.31,2.35),(-0.69,1.68,2.45),(-0.69,1.6,2.45),(-0.3,0.64,2.3),(-0.3,0.31,2.35),(-0.3,0.3,2.35)]
lag2_far = [(6.82,-1.98,2.3),(7.05,-1.98,2.3),(6.98,-2.74,2.1),(7.1,-2.78,2.1),(7.72,-2.08,2.45),(7.9,-2.08,2.45),(7.62,-2.34,2.2),(7.78,-2.3,2.2),(8.82,-2.71,2.05),(8.98,-2.72,2.05),(9.67,-2.04,2.05),(9.87,-2.06,2.05),(9.9,-2.34,2.1),(10.13,-2.28,2.1),(10.24,-2.19,2.15),(10.45,-2.19,2.15),(10.93,-2.67,1.95),(11.02,-2.67,1.95),(12.42,-2.32,1.65),(12.61,-2.09,1.65),(12.81,-2.11,1.65),(12.56,-2.32,1.65),(12.77,-2.3,1.65),(12.93,-2.58,1.5),(12.97,-2.61,1.5),(14.24,-2.39,1.3),(14.4,-2.39,1.3),(14.44,-2.56,1.3),(14.7,-2.3,1.25),(14.86,-2.26,1.25),(14.97,-2.48,1.25),(15.0,-2.15,1.15),(15.13,-2.17,1.15),(16.19,-2.26,1.3),(16.28,-2.24,1.3),(16.35,-2.22,1.3)]
lag2_scatter = [(-0.62,-1.6,2.3),(-0.45,-1.6,2.25),(0.0,-0.63,2.15),(0.05,-0.65,2.15),(1.66,-0.22,2.05),(1.73,-0.22,2.05),(2.03,-0.63,2.15),(2.27,-0.63,2.15),(2.34,-1.06,2.35),(2.76,-1.06,2.35),(3.24,-1.44,2.45),(3.36,-0.63,2.45),(3.49,-1.79,1.9),(3.58,-1.79,1.9),(3.43,-2.26,1.85),(3.51,-2.26,1.85),(4.12,-2.24,1.85),(4.37,-2.26,2.0),(4.46,-2.26,2.0),(4.34,-2.74,2.0),(4.41,-2.77,2.0),(5.48,-2.72,2.15),(5.57,-2.75,2.15),(5.83,-2.27,2.15),(5.93,-2.27,2.15),(3.18,-2.2,2.15),(3.34,-2.25,2.15),(2.59,-1.82,2.15),(2.27,-2.72,1.9)]

# ---- lag 1 ----
lag1_ring_a = [(-7.52,4.38,2.4),(-7.47,2.32,2.4),(-7.4,0.68,2.3),(-7.29,-0.63,2.2),(-7.15,-1.67,2.1),(-7.0,-2.52,2.0),(-6.82,-3.23,1.95),(-6.61,-3.84,1.95),(-6.38,-4.37,1.95),(-6.13,-4.83,2.0),(-5.85,-5.25,2.05),(-5.56,-5.62,2.1),(-5.24,-5.95,2.15),(-4.92,-6.25,2.2),(-4.57,-6.51,2.0),(-4.22,-6.75,1.75),(-3.85,-6.94,1.22),(-3.47,-7.11,1.35),(-3.08,-7.25,1.38),(-2.69,-7.35,1.22),(-2.28,-7.42,1.85),(-1.88,-7.46,2.25),(-1.48,-7.48,2.35),(-1.07,-7.46,2.35),(-0.65,-7.4,2.35),(-0.26,-7.33,2.25),(0.14,-7.23,2.15),(0.54,-7.09,2.15),(0.93,-6.93,2.05),(1.3,-6.76,2.05),(1.68,-6.54,2.0),(2.03,-6.31,2.0),(2.38,-6.05,2.05),(2.71,-5.78,2.1),(3.03,-5.5,2.2),(3.33,-5.17,2.1),(3.61,-4.85,2.2),(3.88,-4.5,2.15),(4.13,-4.15,1.7),(4.36,-3.79,1.22),(4.57,-3.41,1.38),(4.76,-3.02,1.38),(4.93,-2.63,1.2),(5.08,-2.23,1.85),(5.2,-1.82,2.2),(5.31,-1.42,2.3),(5.4,-1.01,2.3),(5.47,-0.61,2.25),(5.53,-0.21,2.2),(5.56,0.2,2.1),(5.59,0.59,2.05),(5.6,0.98,2.05),(5.61,1.36,2.0),(5.62,1.73,1.95),(5.63,2.08,1.95),(5.65,2.43,1.95),(5.65,2.76,1.95),(5.66,3.08,2.0),(5.65,3.38,2.1),(5.62,3.66,2.1),(5.56,3.93,2.05),(5.46,4.18,1.85),(5.31,4.41,1.3),(5.1,4.62,1.38),(4.82,4.81,1.4),(4.5,4.98,1.2),(4.11,5.12,1.8),(3.69,5.25,2.15),(3.23,5.36,2.2),(2.76,5.46,2.3),(2.27,5.52,2.25),(1.79,5.57,2.15),(1.3,5.61,2.05),(0.83,5.63,1.95),(0.37,5.64,1.95),(-0.07,5.66,1.9),(-0.49,5.67,1.85),(-0.9,5.68,1.85),(-1.29,5.69,1.8),(-1.66,5.7,1.8),(-2.01,5.71,1.75),(-2.34,5.7,1.75),(-2.66,5.66,1.75),(-2.96,5.62,1.8),(-3.24,5.51,1.85),(-3.5,5.35,1.85),(-3.74,5.14,1.9),(-3.97,4.87,1.85),(-4.17,4.54,1.85),(-4.35,4.16,1.85),(-4.52,3.74,1.85),(-4.66,3.28,1.8),(-4.78,2.8,1.75),(-4.89,2.33,1.8),(-4.96,1.84,1.75),(-5.03,1.36,1.75),(-5.07,0.89,1.75),(-5.07,0.43,1.8),(-5.08,0.0,1.8)]
lag1_ring_b = [(-5.06,-0.43,1.82),(-5.02,-0.84,1.82),(-4.96,-1.23,1.85),(-4.89,-1.6,1.85),(-4.79,-1.95,1.88),(-4.67,-2.28,1.88),(-4.54,-2.6,1.9),(-4.4,-2.9,1.92),(-4.23,-3.18,1.95),(-4.05,-3.44,1.98),(-3.86,-3.68,1.98),(-3.65,-3.9,1.98),(-3.44,-4.11,1.95),(-3.22,-4.29,1.95),(-2.99,-4.46,1.9),(-2.74,-4.6,1.9),(-2.49,-4.72,1.9),(-2.23,-4.82,1.85),(-1.96,-4.9,1.85),(-1.69,-4.96,1.88),(-1.42,-5.0,1.85),(-1.15,-5.02,1.82),(-0.88,-5.02,1.82),(-0.6,-4.98,1.85),(-0.33,-4.95,1.88),(-0.06,-4.89,1.9),(0.21,-4.82,1.92),(0.48,-4.72,1.9),(0.73,-4.61,1.92),(0.99,-4.48,1.95),(1.23,-4.33,1.95),(1.47,-4.17,2.0),(1.7,-3.99,2.02),(1.93,-3.8,2.0),(2.13,-3.6,2.02),(2.33,-3.38,2.05),(2.51,-3.16,2.0),(2.69,-2.92,1.98),(2.85,-2.68,1.88),(3.01,-2.43,1.85),(3.14,-2.16,1.85),(3.27,-1.9,1.8),(3.37,-1.63,1.82),(3.46,-1.37,1.8),(3.54,-1.1,1.75),(3.61,-0.82,1.72),(3.66,-0.54,1.75),(3.69,-0.27,1.78),(3.71,0.0,1.8),(3.71,0.26,1.82),(3.71,0.53,1.85),(3.69,0.79,1.88),(3.66,1.04,1.88),(3.61,1.29,1.9),(3.54,1.52,1.9),(3.46,1.75,1.88),(3.37,1.98,1.88),(3.27,2.18,1.88),(3.16,2.38,1.88),(3.04,2.57,1.85),(2.91,2.75,1.85),(2.77,2.91,1.85),(2.61,3.05,1.82),(2.46,3.19,1.8),(2.29,3.31,1.8),(2.12,3.42,1.78),(1.94,3.51,1.78),(1.75,3.6,1.78),(1.56,3.66,1.78),(1.36,3.71,1.75),(1.16,3.75,1.75),(0.96,3.76,1.72),(0.76,3.77,1.72),(0.55,3.76,1.7),(0.35,3.74,1.7),(0.14,3.7,1.68),(-0.07,3.65,1.68),(-0.27,3.6,1.65),(-0.46,3.51,1.65),(-0.66,3.42,1.65),(-0.84,3.33,1.62),(-1.02,3.22,1.6),(-1.2,3.1,1.6),(-1.37,2.97,1.6),(-1.53,2.82,1.58),(-1.69,2.67,1.58),(-1.84,2.51,1.58),(-1.97,2.35,1.58),(-2.09,2.17,1.58),(-2.22,2.0,1.58),(-2.32,1.81,1.55),(-2.42,1.62,1.55),(-2.51,1.41,1.55),(-2.58,1.21,1.55),(-2.65,1.01,1.55),(-2.7,0.81,1.55),(-2.74,0.61,1.52),(-2.76,0.4,1.52),(-2.78,0.2,1.52),(-2.79,-0.01,1.52),(-2.78,-0.22,1.5),(-2.77,-0.41,1.5),(-2.75,-0.6,1.5),(-2.72,-0.78,1.48),(-2.67,-0.97,1.48),(-2.61,-1.13,1.48),(-2.54,-1.31,1.48),(-2.47,-1.49,1.48),(-2.4,-1.63,1.48),(-2.31,-1.79,1.46),(-2.21,-1.93,1.45),(-2.09,-2.07,1.44),(-1.98,-2.16,1.42),(-1.87,-2.27,1.42),(-1.74,-2.38,1.4),(-1.6,-2.48,1.4),(-1.47,-2.55,1.4),(-1.33,-2.62,1.4),(-1.18,-2.66,1.38),(-1.04,-2.71,1.38),(-0.89,-2.74,1.38),(-0.74,-2.75,1.38),(-0.59,-2.75,1.38),(-0.43,-2.75,1.38),(-0.28,-2.74,1.38),(-0.13,-2.71,1.38),(0.0,-2.66,1.38),(0.15,-2.62,1.38),(0.3,-2.57,1.38),(0.45,-2.5,1.38),(0.59,-2.42,1.38),(0.72,-2.33,1.38),(0.85,-2.23,1.38),(0.97,-2.13,1.38),(1.09,-2.02,1.38),(1.22,-1.92,1.38),(1.34,-1.8,1.38),(1.45,-1.68,1.4),(1.57,-1.54,1.4),(1.71,-1.4,1.4),(1.85,-1.27,1.4),(2.01,-1.12,1.42),(2.19,-1.02,1.42)]
lag1_spiral = [(-4.27,-0.24,1.68),(-4.27,0.08,1.7),(-4.26,0.41,1.68),(-4.23,0.75,1.68),(-4.18,1.08,1.65),(-4.12,1.41,1.62),(-4.04,1.75,1.62),(-3.94,2.08,1.62),(-3.82,2.4,1.65),(-3.69,2.72,1.65),(-3.55,3.01,1.7),(-3.38,3.29,1.7),(-3.2,3.55,1.7),(-3.0,3.8,1.7),(-2.79,4.02,1.72),(-2.56,4.23,1.72),(-2.32,4.41,1.75),(-2.07,4.58,1.72),(-1.8,4.73,1.7),(-1.52,4.86,1.72),(-1.23,4.98,1.72),(-0.93,5.08,1.72),(-0.62,5.17,1.75),(-0.3,5.25,1.75),(0.03,5.3,1.78),(0.36,5.35,1.85),(0.69,5.37,1.95),(1.03,5.38,2.0),(1.37,5.38,2.1),(1.71,5.37,2.2),(2.03,5.32,2.25),(2.36,5.25,2.4),(2.66,5.18,2.45),(2.96,5.07,2.4),(3.24,4.95,2.2),(3.51,4.79,1.72),(3.75,4.62,1.28),(3.98,4.44,1.25),(4.17,4.24,1.25),(4.36,4.02,1.62),(4.53,3.77,2.15),(4.68,3.51,2.3),(4.81,3.24,2.2),(4.93,2.93,2.1),(5.04,2.62,2.05),(5.13,2.31,2.0),(5.21,1.98,1.95),(5.26,1.62,2.0),(5.33,1.27,2.0),(5.34,0.9,2.05),(5.36,0.52,2.1),(5.35,0.14,2.15),(5.31,-0.25,2.25),(5.28,-0.63,2.3),(5.21,-1.02,2.4),(5.12,-1.42,2.45),(5.02,-1.82,2.45),(4.9,-2.21,2.3),(4.75,-2.6,1.7),(4.58,-2.98,1.25),(4.39,-3.35,1.2),(4.19,-3.72,1.22),(3.97,-4.07,1.6),(3.72,-4.41,2.15),(3.46,-4.74,2.25),(3.18,-5.05,2.3),(2.89,-5.36,2.2),(2.58,-5.63,2.2),(2.26,-5.89,2.1),(1.93,-6.13,2.05),(1.57,-6.36,2.05),(1.21,-6.55,2.05),(0.85,-6.73,2.1),(0.47,-6.87,2.15),(0.09,-7.0,2.25),(-0.3,-7.1,2.3),(-0.69,-7.18,2.4),(-1.08,-7.22,2.45),(-1.48,-7.23,2.47),(-1.88,-7.22,2.45),(-2.26,-7.16,2.25),(-2.65,-7.1,1.75),(-3.03,-6.99,1.25),(-3.41,-6.86,1.22),(-3.77,-6.7,1.3),(-4.13,-6.5,1.62),(-4.47,-6.27,2.1),(-4.8,-6.01,2.3),(-5.12,-5.72,2.3),(-5.42,-5.4,2.2),(-5.7,-5.03,2.1),(-5.96,-4.63,2.05),(-6.2,-4.19,2.0),(-6.42,-3.69,1.95),(-6.63,-3.12,1.95),(-6.8,-2.47,2.0),(-6.95,-1.7,2.05),(-7.07,-0.77,2.1),(-7.17,0.34,2.2),(-7.24,1.75,2.3),(-7.27,3.38,2.45),(-7.29,5.43,2.47)]
lag1_inner = [(-4.27,-0.24,1.68),(-4.25,-0.57,1.68),(-4.2,-0.87,1.68),(-4.15,-1.17,1.7),(-4.08,-1.47,1.72),(-3.99,-1.75,1.72),(-3.9,-2.01,1.72),(-3.78,-2.27,1.75),(-3.65,-2.51,1.78),(-3.51,-2.74,1.78),(-3.37,-2.95,1.75),(-3.2,-3.15,1.72),(-3.03,-3.33,1.72),(-2.85,-3.5,1.72),(-2.65,-3.64,1.72),(-2.46,-3.78,1.7),(-2.25,-3.89,1.7),(-2.04,-3.99,1.7),(-1.82,-4.07,1.68),(-1.6,-4.13,1.68),(-1.37,-4.17,1.68),(-1.15,-4.21,1.68),(-0.91,-4.21,1.68),(-0.69,-4.2,1.68),(-0.45,-4.18,1.68),(-0.22,-4.14,1.68),(0.0,-4.1,1.68),(0.23,-4.03,1.68),(0.45,-3.94,1.68),(0.67,-3.85,1.68),(0.88,-3.73,1.68),(1.08,-3.61,1.68),(1.29,-3.46,1.68),(1.47,-3.31,1.68),(1.66,-3.15,1.68),(1.83,-2.98,1.65),(2.0,-2.79,1.62),(2.15,-2.6,1.62),(2.3,-2.4,1.6),(2.43,-2.2,1.6),(2.55,-1.99,1.58),(2.66,-1.77,1.58),(2.77,-1.54,1.58),(2.85,-1.32,1.55),(2.94,-1.09,1.55),(2.99,-0.87,1.55),(3.05,-0.63,1.55),(3.09,-0.4,1.55),(3.11,-0.18,1.55),(3.12,0.06,1.55),(3.12,0.28,1.55),(3.11,0.5,1.58),(3.09,0.72,1.6),(3.05,0.93,1.6),(3.0,1.13,1.62),(2.94,1.33,1.65),(2.88,1.51,1.65),(2.8,1.7,1.68),(2.72,1.88,1.68),(2.62,2.03,1.68),(2.52,2.19,1.7),(2.41,2.34,1.7),(2.29,2.48,1.7),(2.16,2.6,1.7),(2.02,2.71,1.72),(1.88,2.81,1.72),(1.73,2.89,1.72),(1.58,2.97,1.72),(1.42,3.03,1.72),(1.26,3.08,1.72),(1.09,3.13,1.72),(0.93,3.15,1.7),(0.76,3.17,1.7),(0.59,3.17,1.7),(0.41,3.15,1.68),(0.24,3.13,1.68),(0.07,3.1,1.66),(-0.1,3.06,1.65),(-0.27,3.01,1.65),(-0.44,2.94,1.62),(-0.59,2.85,1.62),(-0.74,2.77,1.62),(-0.89,2.67,1.6),(-1.04,2.57,1.6),(-1.18,2.46,1.6),(-1.32,2.34,1.6),(-1.44,2.21,1.58),(-1.56,2.07,1.58),(-1.67,1.93,1.58),(-1.78,1.78,1.55),(-1.87,1.62,1.55),(-1.96,1.47,1.55),(-2.03,1.31,1.55),(-2.11,1.14,1.52),(-2.17,0.98,1.52),(-2.22,0.81,1.52),(-2.26,0.65,1.52),(-2.29,0.47,1.52),(-2.32,0.29,1.52),(-2.33,0.12,1.52),(-2.32,-0.01,1.52),(-2.3,-0.18,1.52),(-2.27,-0.33,1.52),(-2.25,-0.5,1.5),(-2.2,-0.65,1.5),(-2.15,-0.8,1.48),(-2.1,-0.93,1.48),(-2.03,-1.05,1.48),(-1.95,-1.18,1.48),(-1.87,-1.31,1.46),(-1.79,-1.43,1.45),(-1.69,-1.54,1.44),(-1.59,-1.62,1.42),(-1.5,-1.7,1.42),(-1.39,-1.78,1.4),(-1.28,-1.85,1.4),(-1.17,-1.91,1.4),(-1.05,-1.95,1.4),(-0.93,-2.0,1.38),(-0.8,-2.02,1.38),(-0.66,-2.04,1.38),(-0.51,-2.05,1.38),(-0.36,-2.03,1.38),(-0.22,-2.01,1.38),(-0.02,-1.99,1.38),(0.15,-1.95,1.38),(0.27,-1.9,1.38),(0.39,-1.85,1.38),(0.51,-1.78,1.38),(0.61,-1.72,1.38),(0.72,-1.66,1.38),(0.83,-1.58,1.38),(0.94,-1.5,1.38),(1.08,-1.38,1.4),(1.22,-1.29,1.42),(1.37,-1.17,1.42),(1.57,-1.07,1.45),(1.82,-0.95,1.45),(2.18,-0.87,1.48),(2.53,-0.84,1.52),(2.66,-0.93,1.55),(2.72,-0.95,1.6),(2.91,-0.7,1.6),(3.04,-0.63,1.65)]
lag1_inside = [(-2.57,1.43,2.15),(-1.69,1.27,2.25),(-1.67,1.27,2.25),(-0.67,1.13,2.2),(-0.58,1.13,2.2),(0.61,1.0,2.3),(0.74,1.0,2.3),(2.27,0.89,2.35),(2.42,0.89,2.35),(4.34,0.78,2.35),(4.5,0.78,2.35),(5.38,1.29,2.45),(5.52,1.25,2.45),(-2.53,2.08,2.05),(-2.51,2.04,2.05),(-1.78,1.9,2.15),(-0.83,1.76,2.2),(-0.81,1.74,2.2),(0.27,1.64,2.15),(0.33,1.6,2.15),(1.64,1.52,2.15),(1.72,1.49,2.15),(3.34,1.4,2.2),(3.44,1.37,2.2)]
lag1_left_group = [(-3.18,2.31,2.05),(-3.17,2.25,2.05),(-3.88,1.87,2.0),(-3.83,1.87,2.0),(-3.29,1.62,2.0),(-3.21,1.62,2.0),(-3.75,2.61,2.1),(-3.74,2.54,2.1),(-4.25,3.02,2.05),(-4.24,2.96,2.05),(-4.88,2.75,1.95),(-4.84,2.69,1.95),(-4.69,3.63,2.0),(-4.69,3.54,2.0),(-5.31,3.47,2.05),(-5.27,3.4,2.05),(-5.69,4.51,2.05),(-5.65,4.41,2.05),(-5.1,4.46,2.0),(-5.1,4.37,2.0),(-5.46,5.62,2.05),(-5.46,5.51,2.05),(-6.01,5.95,2.1),(-5.99,5.82,2.1),(-4.42,2.25,1.95),(-4.36,2.21,1.95)]
lag1_left_dup = [(-7.29,5.57,2.45),(-7.28,3.48,2.45),(-7.25,1.75,2.35),(-7.18,0.38,2.25),(-7.07,-0.78,2.15),(-6.94,-1.7,2.1),(-7.23,1.72,2.35),(-7.17,0.32,2.25),(-7.04,-0.8,2.15),(-6.79,-2.47,2.0)]
lag1_right_group = [(3.37,-0.38,1.85),(3.43,-0.36,1.85),(3.39,-0.68,1.9),(3.46,-0.68,1.9),(3.51,-0.54,1.8),(3.58,-0.52,1.8),(3.37,-0.79,1.78),(3.43,-0.8,1.78),(5.31,-0.23,2.25),(5.47,-0.24,2.2),(5.56,-0.22,2.2),(5.8,-0.55,2.15),(5.9,-0.55,2.15),(5.29,-0.63,2.3),(5.45,-0.62,2.3),(5.4,-1.01,2.35),(5.31,-1.42,2.3),(4.85,-2.6,1.7),(5.36,1.29,2.1),(5.38,0.99,2.1),(5.34,0.53,2.1),(5.33,0.14,2.15)]
lag1_top = [(-7.3,16.33,1.35),(-7.19,16.27,1.35),(-7.42,14.98,1.12),(-6.93,15.0,1.2),(-7.0,14.9,1.2),(-7.0,14.72,1.2),(-7.05,14.42,1.25),(-7.05,14.27,1.25),(-6.75,14.46,1.22),(-6.57,12.99,1.45),(-6.57,12.92,1.45),(-7.19,12.77,1.5),(-7.49,12.59,1.5),(-7.16,12.57,1.6),(-6.82,12.64,1.6),(-6.77,12.42,1.6),(-6.34,11.01,2.0),(-6.34,10.92,2.0),(-7.23,10.44,2.0),(-7.21,10.25,2.0),(-6.57,10.12,1.95),(-6.57,9.94,1.95),(-7.53,9.69,2.0),(-6.08,8.97,2.05),(-6.08,8.82,2.05),(-7.28,7.93,2.35),(-7.28,7.77,2.35),(-6.29,7.8,2.05),(-6.27,7.64,2.05),(-5.79,7.1,2.05),(-5.79,6.95,2.05),(-7.53,6.84,2.4)]
lag1_far = [(6.84,0.63,2.3),(7.05,0.63,2.3),(7.72,1.13,2.4),(7.9,1.09,2.4),(6.98,-0.13,2.05),(7.1,-0.09,2.05),(7.62,-0.46,2.2),(7.81,-0.46,2.2),(8.82,0.02,2.0),(8.93,0.04,2.0),(9.69,0.52,2.0),(9.87,0.52,2.0),(9.9,-0.33,2.0),(10.13,-0.33,2.0),(10.24,1.02,2.1),(10.45,0.98,2.1),(10.93,0.17,1.95),(11.02,0.19,1.95),(12.56,0.87,1.65),(12.77,0.85,1.65),(12.56,0.41,1.55),(12.77,0.39,1.55),(12.93,0.35,1.45),(13.0,0.32,1.45),(12.42,-0.2,1.75),(12.63,-0.2,1.75),(14.24,0.76,1.3),(14.4,0.72,1.3),(14.44,0.44,1.3),(14.7,-0.09,1.25),(14.86,-0.09,1.25),(14.97,0.59,1.25),(15.0,0.28,1.15),(15.13,0.28,1.15),(16.19,0.02,1.3),(16.28,0.04,1.3),(16.35,0.17,1.3)]

lags = [4, 3, 2, 1]
panel_points = [
    lag4_upper + lag4_second + lag4_tip + lag4_inner_big + lag4_inner_small + lag4_right + lag4_small_right
    + lag4_low_a + lag4_low_b + lag4_oval_top + lag4_oval_mid + lag4_oval_turn + lag4_oval_low + lag4_oval_under
    + lag4_top + lag4_far + lag4_scatter,
    lag3_ring_outer + lag3_ring_inner + lag3_lower_a + lag3_lower_b + lag3_cusp + lag3_cusp_two
    + lag3_bottom_a + lag3_bottom_b + lag3_scatter + lag3_top + lag3_far,
    lag2_left + lag2_left_two + lag2_top_loop + lag2_top_second + lag2_purple + lag2_mid_a + lag2_mid_b
    + lag2_orange_a + lag2_orange_b + lag2_loop_tip + lag2_loop_low + lag2_loop_right + lag2_outer_left
    + lag2_outer_right + lag2_top + lag2_far + lag2_scatter,
    lag1_ring_a + lag1_ring_b + lag1_spiral + lag1_inner + lag1_inside + lag1_left_group + lag1_left_dup
    + lag1_right_group + lag1_top + lag1_far,
]

tops_px = [863, 2254, 3645, 5036]
fig_w, fig_h = 1800, 7200
ax_h = 1265

fig = plt.figure(figsize=(6, 24), dpi=300)
for k, pts, top in zip(lags, panel_points, tops_px):
    bottom = 1 - (top + ax_h) / fig_h
    ax = fig.add_axes([225 / fig_w, bottom, 1315 / fig_w, ax_h / fig_h])
    cax = fig.add_axes([1554 / fig_w, bottom, 67 / fig_w, ax_h / fig_h])
    xs = [p[0] for p in pts]
    ys = [p[1] for p in pts]
    cs = [p[2] for p in pts]
    sc = ax.scatter(xs, ys, c=cs, s=4, linewidths=0, cmap='magma_r', vmin=1.107, vmax=2.473, alpha=0.9)
    ax.set_xlim(-8.73, 17.56)
    ax.set_ylim(-8.69, 17.55)
    ax.set_xticks([-5, 0, 5, 10, 15])
    ax.set_yticks([-5, 0, 5, 10, 15])
    ax.set_ylabel(r'rotated rossler x$_i + %d\tau$' % k, fontsize=14)
    if k == 1:
        ax.set_xlabel(r'rotated rossler x$_i$', fontsize=14)
    cb = fig.colorbar(sc, cax=cax)
    cb.set_ticks([1.2, 1.4, 1.6, 1.8, 2.0, 2.2, 2.4])
    cb.set_label(r'Power law slope fit to $n(x_i)$ vs. $r$', fontsize=14)

fig.savefig('out.png', dpi=300)
